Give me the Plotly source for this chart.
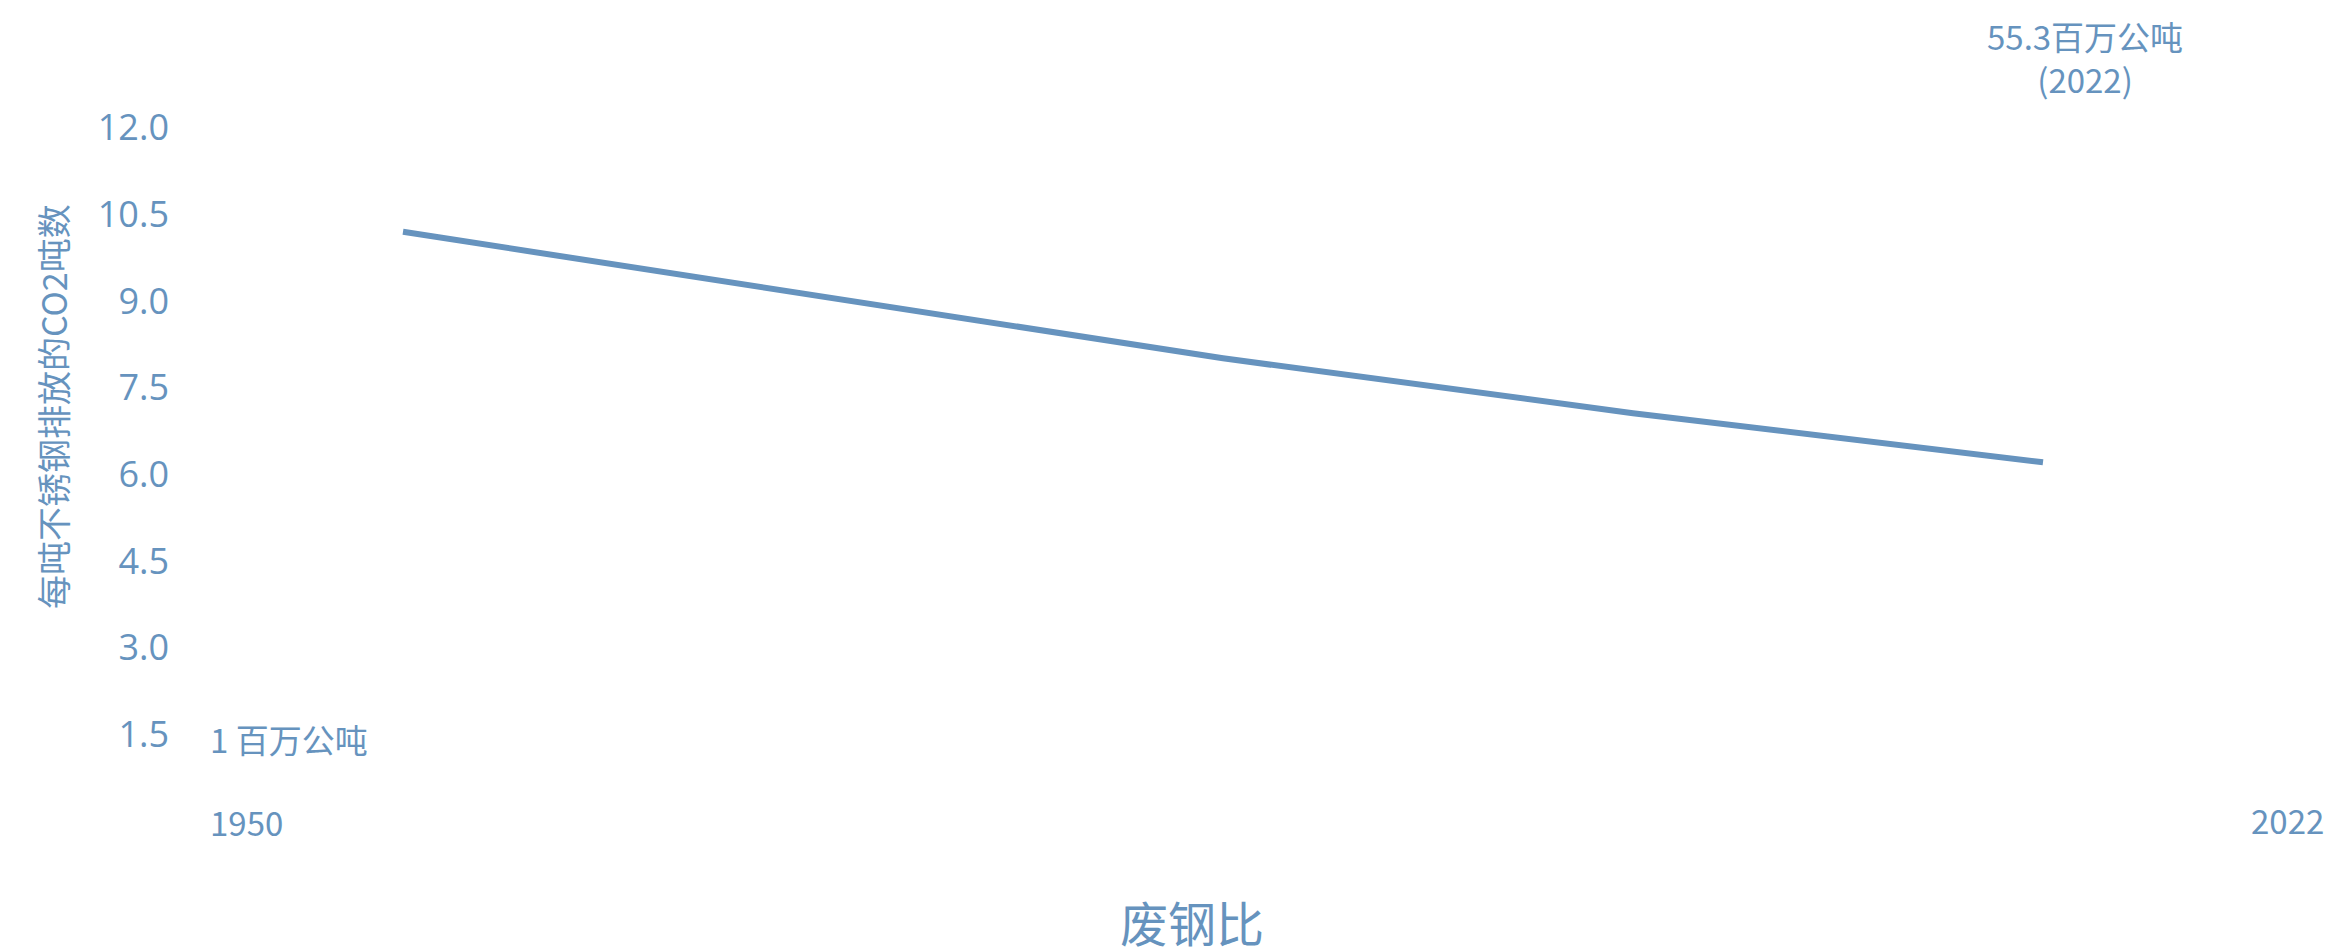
import plotly.graph_objects as go

# ---- data ----
scrap_ratio = [0.10, 0.30, 0.40, 0.50]
co2_per_tonne = [10.20, 8.01, 7.06, 6.21]
y_tick_vals = [1.5, 3.0, 4.5, 6.0, 7.5, 9.0, 10.5, 12.0]
y_tick_text = ["1.5", "3.0", "4.5", "6.0", "7.5", "9.0", "10.5", "12.0"]
start_label = "1 百万公吨"
end_label = "55.3百万公吨<br>(2022)"
start_year = "1950"
end_year = "2022"
x_title = "废钢比"
y_title = "每吨不锈钢排放的CO2吨数"

COLOR = "#6693be"
W, H = 2332, 951
L, R, T, B = 170, 2300, 99, 792

# x scale: 0.10 at pixel 403, 4100 px per unit
X0_PX, X0_VAL, PX_PER_UNIT = 403, 0.10, 4100.0
x_range = [X0_VAL - (X0_PX - L) / PX_PER_UNIT, X0_VAL + (R - X0_PX) / PX_PER_UNIT]

def px(x):
    return (x - L) / (R - L)

def py(y):
    return (B - y) / (B - T)

fig = go.Figure()
fig.add_trace(go.Scatter(
    x=scrap_ratio, y=co2_per_tonne, mode="lines",
    line=dict(color=COLOR, width=6), hoverinfo="skip", showlegend=False,
))

cjk = "Noto Sans CJK SC"
ann = [
    dict(text=end_label, x=px(2085), y=py(58), xanchor="center", yanchor="middle",
         font=dict(size=33, color=COLOR, family=cjk)),
    dict(text=start_label, x=px(208), y=py(739), xanchor="left", yanchor="middle",
         font=dict(size=33, color=COLOR, family=cjk)),
    dict(text=start_year, x=px(208), y=py(822), xanchor="left", yanchor="middle",
         font=dict(size=33, color=COLOR, family=cjk)),
    dict(text=end_year, x=px(2326), y=py(820), xanchor="right", yanchor="middle",
         font=dict(size=33, color=COLOR, family=cjk)),
    dict(text=x_title, x=px(1192), y=py(921), xanchor="center", yanchor="middle",
         font=dict(size=48, color=COLOR, family=cjk)),
    dict(text=y_title, x=px(52), y=py(407), xanchor="center", yanchor="middle",
         textangle=-90, font=dict(size=34, color=COLOR, family=cjk)),
]
for a in ann:
    a.update(xref="paper", yref="paper", showarrow=False)

fig.update_layout(
    width=W, height=H,
    margin=dict(l=L, r=W - R, t=T, b=H - B, pad=0),
    paper_bgcolor="white", plot_bgcolor="white",
    annotations=ann,
    xaxis=dict(range=x_range, showticklabels=False, showgrid=False,
               zeroline=False, showline=False, ticks=""),
    yaxis=dict(range=[0.5, 12.5], tickvals=y_tick_vals, ticktext=y_tick_text,
               showgrid=False, zeroline=False, showline=False, ticks="",
               tickfont=dict(size=36, color=COLOR, family="Open Sans")),
)

fig.write_html("out.html", config={"displayModeBar": False},
               post_script="document.body.style.margin='0';document.body.style.overflow='hidden';")
